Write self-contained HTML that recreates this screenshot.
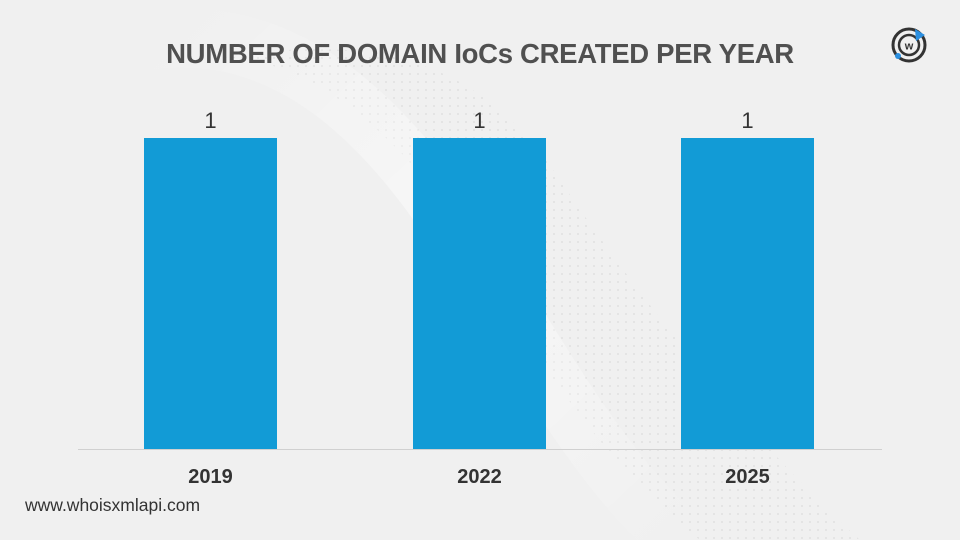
<!DOCTYPE html>
<html><head><meta charset="utf-8"><style>
html,body{margin:0;padding:0}
body{width:960px;height:540px;background:#f0f0f0;position:relative;overflow:hidden;font-family:"Liberation Sans",sans-serif}
.t{position:absolute;top:38px;left:0;width:960px;text-align:center;font-weight:bold;font-size:27.5px;color:#505050;letter-spacing:-0.3px}
.bar{position:absolute;top:138px;width:133px;height:311px;background:#129bd6}
.v{position:absolute;top:108px;width:133px;text-align:center;font-size:22px;color:#333}
.y{position:absolute;top:466px;width:133px;text-align:center;font-size:20px;font-weight:bold;color:#333}
.ax{position:absolute;left:78px;width:804px;top:449px;height:1px;background:#d0d0d0}
.f{position:absolute;left:25px;top:495px;font-size:17.5px;color:#333}
</style></head><body>
<svg width="960" height="540" style="position:absolute;left:0;top:0">
<defs><pattern id="d" width="8" height="8" patternUnits="userSpaceOnUse"><circle cx="2" cy="2" r="1" fill="#dcdcdc"/></pattern>
<linearGradient id="g" x1="0" y1="0" x2="1" y2="1"><stop offset="0" stop-color="#fff" stop-opacity="0"/><stop offset="0.5" stop-color="#fff" stop-opacity="0.5"/><stop offset="1" stop-color="#fff" stop-opacity="0"/></linearGradient></defs>
<path d="M200 60 C 300 40, 420 150, 480 260 S 620 480, 700 540 L 860 540 C 760 450, 640 300, 560 180 S 380 30, 200 60 Z" fill="url(#d)" opacity="0.8"/>
<path d="M150 40 C 300 20, 400 140, 470 250 S 600 470, 680 540" stroke="url(#g)" stroke-width="60" fill="none"/>
</svg>
<div class="t">NUMBER OF DOMAIN IoCs CREATED PER YEAR</div>
<div class="ax"></div>
<div class="bar" style="left:144px"></div><div class="bar" style="left:413px"></div><div class="bar" style="left:681px"></div>
<div class="v" style="left:144px">1</div><div class="v" style="left:413px">1</div><div class="v" style="left:681px">1</div>
<div class="y" style="left:144px">2019</div><div class="y" style="left:413px">2022</div><div class="y" style="left:681px">2025</div>
<div class="f">www.whoisxmlapi.com</div>
<svg width="40" height="40" style="position:absolute;left:889px;top:25px" viewBox="0 0 40 40">
<circle cx="20" cy="20" r="16" fill="none" stroke="#333" stroke-width="3"/>
<circle cx="20" cy="20" r="10" fill="none" stroke="#333" stroke-width="2.5"/>
<path d="M26 4 L36 10 L27 16 Z" fill="#2b8fe0"/>
<circle cx="9" cy="31" r="3" fill="#2b8fe0"/>
<text x="20" y="24.5" text-anchor="middle" font-size="11" font-weight="bold" font-family="Liberation Sans" fill="#333">w</text>
</svg>
</body></html>
